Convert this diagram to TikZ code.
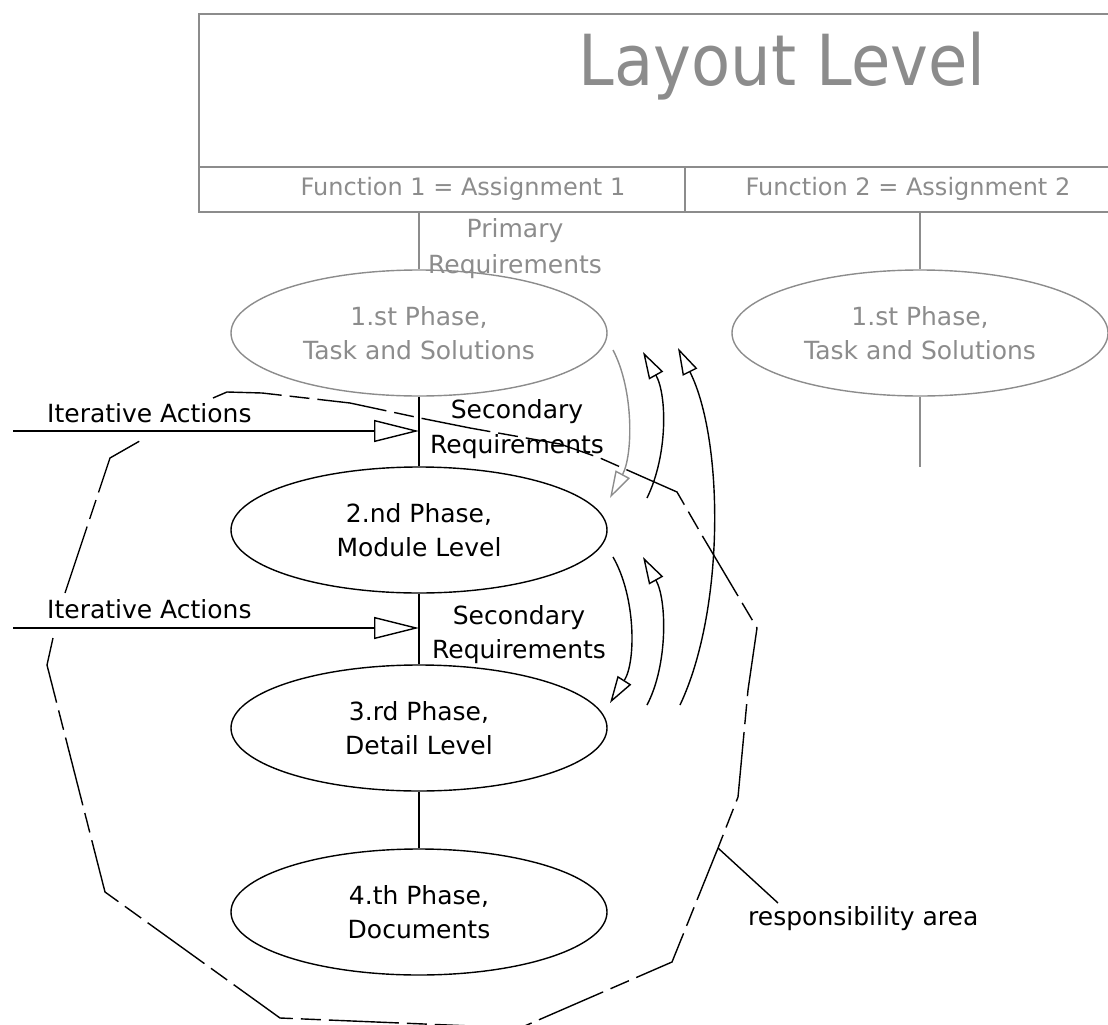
\documentclass[tikz,border=0pt]{standalone}
\usepackage{fontspec}
\setmainfont{DejaVu Sans}
\usetikzlibrary{arrows.meta,shapes.geometric}
\definecolor{lg}{gray}{0.55}
\begin{document}
\begin{tikzpicture}[x=1pt,y=-1pt,
  ln/.style={line width=1.4pt},
  grayln/.style={ln, draw=lg},
  phase/.style={ellipse, draw, ln, minimum width=376pt, minimum height=126pt, inner sep=0pt, align=center, font=\fontsize{25}{34}\selectfont},
  lbl/.style={inner sep=0pt, font=\fontsize{25}{35}\selectfont, align=center},
  bigarr/.style={ln, -{Triangle[open,length=45pt,width=22pt]}},
  smallarr/.style={ln, -{Triangle[open,length=27pt,width=16pt]}},
  resp/.style={ln, dash pattern=on 70pt off 8pt on 20pt off 8pt},
]
\useasboundingbox (0,0) rectangle (1108,1025);

% top box
\coordinate (tl) at (199,14);
\coordinate (tr) at (1108,14);
\coordinate (ml) at (199,167);
\coordinate (mr) at (1108,167);
\coordinate (bl) at (199,212);
\coordinate (br) at (1108,212);
\coordinate (dvt) at (685,167);
\coordinate (dvb) at (685,212);
\draw[grayln] (tr) -- (tl) -- (bl) -- (br);
\draw[grayln] (ml) -- (mr);
\draw[grayln] (dvt) -- (dvb);
\node[anchor=base, inner sep=0pt, text=lg, font=\fontsize{64}{70}\selectfont] (layout) at (782,85) {\scalebox{1}[1.1]{Layout Level}};
\node[anchor=base, inner sep=0pt, text=lg, font=\fontsize{24}{30}\selectfont] (fn1) at (463,195) {Function 1 = Assignment 1};
\node[anchor=base, inner sep=0pt, text=lg, font=\fontsize{24}{30}\selectfont] (fn2) at (908,195) {Function 2 = Assignment 2};

% phases
\node[phase, draw=lg, text=lg] (e1) at (419,333) {1.st Phase,\\Task and Solutions};
\node[phase, draw=lg, text=lg] (e1r) at (920,333) {1.st Phase,\\Task and Solutions};
\node[phase] (e2) at (419,530) {2.nd Phase,\\Module Level};
\node[phase] (e3) at (419,728) {3.rd Phase,\\Detail Level};
\node[phase] (e4) at (419,912) {4.th Phase,\\Documents};

\coordinate (f1) at (419,212);
\coordinate (f2) at (920,212);
\coordinate (r2end) at (920,467);
\draw[grayln] (f1) -- (e1.north);
\draw[grayln] (f2) -- (e1r.north);
\draw[grayln] (e1r.south) -- (r2end);
\draw[ln] (e1.south) -- (e2.north);
\draw[ln] (e2.south) -- (e3.north);
\draw[ln] (e3.south) -- (e4.north);

% labels
\node[lbl, text=lg, anchor=base] (pr1) at (515,237) {Primary};
\node[lbl, text=lg, anchor=base] (pr2) at (515,273) {Requirements};
\node[lbl, anchor=base] (sr1a) at (517,418) {Secondary};
\node[lbl, anchor=base] (sr1b) at (517,453) {Requirements};
\node[lbl, anchor=base] (sr2a) at (519,624) {Secondary};
\node[lbl, anchor=base] (sr2b) at (519,658) {Requirements};
\node[lbl, anchor=base west] (ia1) at (47,422) {Iterative Actions};
\node[lbl, anchor=base west] (ia2) at (47,618) {Iterative Actions};
\node[lbl, anchor=base west] (resplbl) at (748,925) {responsibility area};

% iterative arrows
\coordinate (ia1s) at (13,431);
\coordinate (ia1e) at (419,431);
\coordinate (ia2s) at (13,628);
\coordinate (ia2e) at (419,628);
\draw[bigarr] (ia1s) -- (ia1e);
\draw[bigarr] (ia2s) -- (ia2e);

% curved arrows
\coordinate (a1s) at (613,350); \coordinate (a1e) at (610,498);
\coordinate (a2s) at (647,498); \coordinate (a2e) at (643,352);
\coordinate (a3s) at (680,705); \coordinate (a3e) at (678,348);
\coordinate (a4s) at (613,557); \coordinate (a4e) at (610,703);
\coordinate (a5s) at (647,705); \coordinate (a5e) at (643,557);
\draw[smallarr, draw=lg] (a1s) .. controls (634,390) and (633,455) .. (a1e);
\draw[smallarr] (a2s) .. controls (668,455) and (667,395) .. (a2e);
\draw[smallarr] (a3s) .. controls (725,610) and (724,440) .. (a3e);
\draw[smallarr] (a4s) .. controls (636,597) and (636,662) .. (a4e);
\draw[smallarr] (a5s) .. controls (668,665) and (667,600) .. (a5e);

% responsibility area
\draw[resp] (213,398) -- (227,392) -- (262,393) -- (350,403) -- (420,418) -- (470,428) -- (560,444) -- (600,458) -- (677,492) -- (703,537) -- (757,628) -- (748,690) -- (738,797) -- (718,848) -- (672,962) -- (520,1028) -- (280,1018) -- (105,892) -- (47,665) -- (53,638);
\draw[resp] (65,593) -- (110,458) -- (145,438);
\coordinate (lead) at (718,848);
\coordinate (leadend) at (778,903);
\draw[ln] (lead) -- (leadend);
\end{tikzpicture}
\end{document}
